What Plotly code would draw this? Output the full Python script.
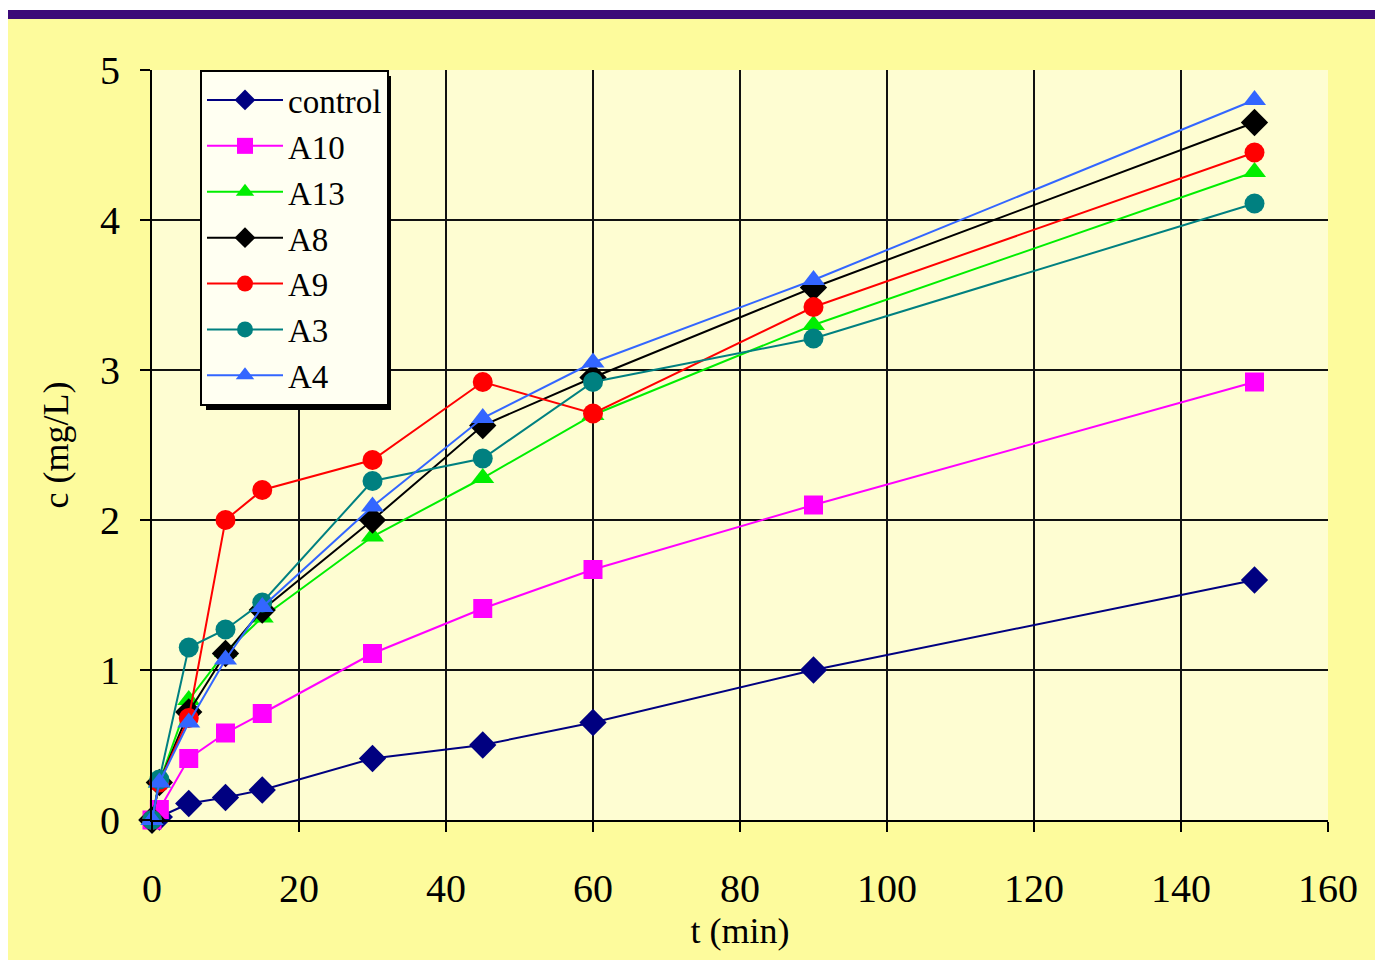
import plotly.graph_objects as go

t = [0, 1, 5, 10, 15, 30, 45, 60, 90, 150]
control = [0, 0.02, 0.11, 0.15, 0.2, 0.41, 0.5, 0.65, 1.0, 1.6]
A10 = [0, 0.07, 0.41, 0.58, 0.71, 1.11, 1.41, 1.67, 2.1, 2.92]
A13 = [0, 0.25, 0.8, 1.12, 1.35, 1.89, 2.28, 2.7, 3.3, 4.32]
A8 = [0, 0.25, 0.72, 1.11, 1.4, 2.0, 2.63, 2.95, 3.55, 4.65]
A9 = [0, 0.25, 0.68, 2.0, 2.2, 2.4, 2.92, 2.71, 3.42, 4.45]
A3 = [0, 0.27, 1.15, 1.27, 1.45, 2.26, 2.41, 2.92, 3.21, 4.11]
A4 = [0, 0.25, 0.65, 1.07, 1.42, 2.09, 2.68, 3.05, 3.6, 4.8]

series = [
    ("control", control, "#000080", "diamond", 21),
    ("A10", A10, "#FF00FF", "square", 19),
    ("A13", A13, "#00EE00", "triangle-up", 20),
    ("A8", A8, "#000000", "diamond", 21),
    ("A9", A9, "#FF0000", "circle", 20),
    ("A3", A3, "#008080", "circle", 20),
    ("A4", A4, "#3366FF", "triangle-up", 20),
]

# page offset from body margin
O = 8
PAGE_W, PAGE_H = 1383, 965
W, H = PAGE_W - O, PAGE_H - O
ML, MR, MT, MB = 152 - O, 55, 70 - O, 145
PW, PH = W - ML - MR, H - MT - MB

def px2x(px):
    return (px - O - ML) / PW

def py2y(py):
    return 1 - (py - O - MT) / PH

fig = go.Figure()
for name, vals, col, sym, sz in series:
    fig.add_trace(go.Scatter(
        x=t, y=vals, name=name, mode="lines+markers",
        line=dict(color=col, width=2),
        marker=dict(symbol=sym, size=sz, color=col),
        cliponaxis=False,
    ))

font = "Liberation Serif, Times New Roman, serif"
shapes = [
    dict(type="rect", xref="paper", yref="paper", x0=px2x(0), x1=px2x(PAGE_W), y0=py2y(0), y1=py2y(10),
         fillcolor="white", line_width=0, layer="above"),
    dict(type="rect", xref="paper", yref="paper", x0=px2x(0), x1=px2x(PAGE_W), y0=py2y(960), y1=py2y(PAGE_H + 5),
         fillcolor="white", line_width=0, layer="above"),
    dict(type="rect", xref="paper", yref="paper", x0=px2x(1377), x1=px2x(PAGE_W + 5), y0=py2y(0), y1=py2y(PAGE_H + 5),
         fillcolor="white", line_width=0, layer="above"),
    dict(type="rect", xref="paper", yref="paper", x0=px2x(0), x1=px2x(1377), y0=py2y(10), y1=py2y(19),
         fillcolor="#3C0A78", line_width=0, layer="above"),
    # legend shadow
    dict(type="rect", xref="paper", yref="paper", x0=px2x(206), x1=px2x(391), y0=py2y(76), y1=py2y(410),
         fillcolor="black", line_width=0, layer="above"),
]

fig.update_layout(
    width=W, height=H,
    margin=dict(l=ML, r=MR, t=MT, b=MB),
    paper_bgcolor="#FDFB9C",
    plot_bgcolor="#FEFDD2",
    font=dict(family=font, size=36, color="black"),
    shapes=shapes,
    showlegend=True,
    legend=dict(
        x=px2x(200), y=py2y(70), xanchor="left", yanchor="top",
        bgcolor="#FFFFF2", bordercolor="black", borderwidth=2,
        font=dict(family=font, size=33, color="black"),
        tracegroupgap=0, itemwidth=76,
    ),
    xaxis=dict(
        range=[0, 160], dtick=20, tick0=0,
        showgrid=True, gridcolor="#111111", gridwidth=2,
        zeroline=False, showline=True, linecolor="black", linewidth=2,
        ticks="outside", ticklen=10, tickwidth=2, tickcolor="black",
        tickfont=dict(family=font, size=40),
        ticklabelstandoff=22,
        title=dict(text="t (min)", font=dict(family=font, size=36), standoff=0),
    ),
    yaxis=dict(
        range=[0, 5], dtick=1, tick0=0,
        showgrid=True, gridcolor="#111111", gridwidth=2,
        zeroline=False, showline=True, linecolor="black", linewidth=2,
        ticks="outside", ticklen=10, tickwidth=2, tickcolor="black",
        tickfont=dict(family=font, size=40),
        ticklabelstandoff=12,
        title=dict(text="c (mg/L)", font=dict(family=font, size=36), standoff=20),
    ),
)

fig.write_html("out.html")
